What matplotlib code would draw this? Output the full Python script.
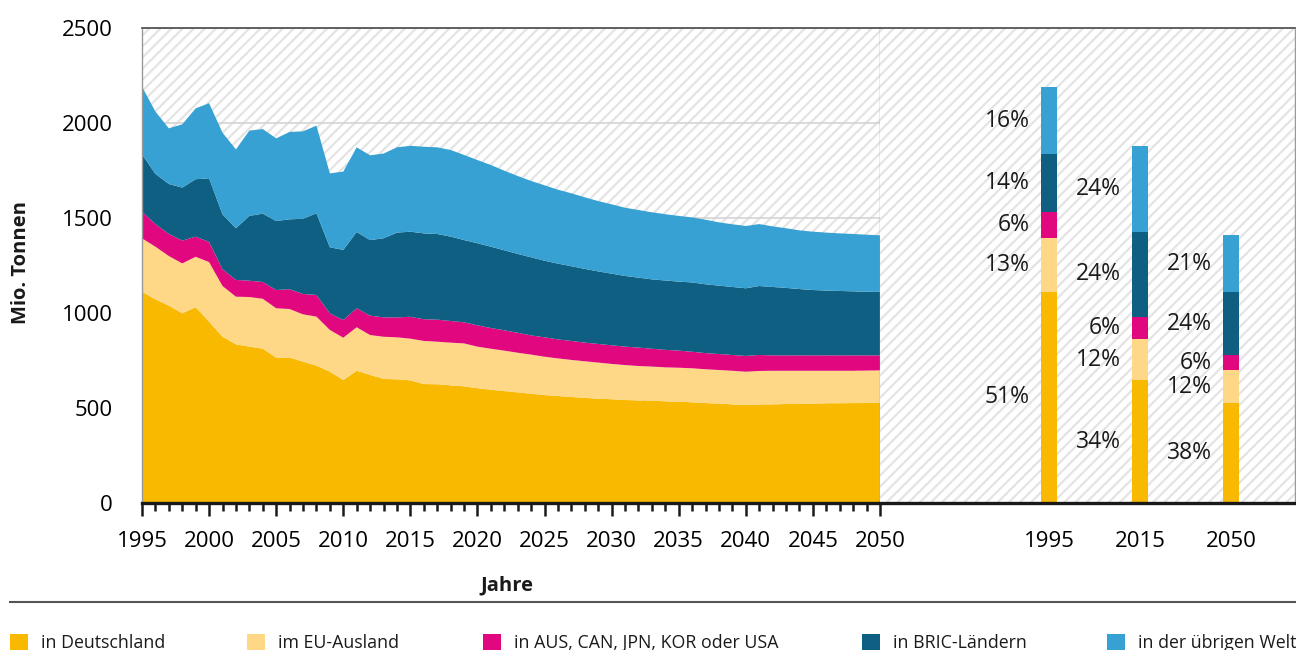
import numpy as np
import matplotlib.pyplot as plt
from matplotlib.patches import Rectangle
from matplotlib.lines import Line2D
from matplotlib.ticker import MultipleLocator

plt.rcParams["font.family"] = ["Open Sans", "DejaVu Sans"]
plt.rcParams["hatch.linewidth"] = 1.6

# --- data (Mio. Tonnen) ---------------------------------------------------
YEARS = list(range(1995, 2051))

DEUTSCHLAND = [1112, 1072, 1039, 998, 1030, 954, 875, 835, 823, 812,
               765, 765, 744, 723, 691, 647, 696, 674, 653, 651,
               645, 626, 625, 619, 614, 604, 596, 589, 582, 575,
               568, 563, 558, 553, 549, 546, 542, 540, 539, 535,
               533, 530, 526, 523, 519, 516, 519, 519, 521, 521,
               523, 525, 525, 526, 526, 528]
EU_AUSLAND = [281, 277, 261, 263, 266, 314, 267, 251, 261, 263,
              260, 256, 249, 258, 220, 223, 229, 210, 222, 221,
              220, 227, 224, 225, 226, 219, 216, 213, 209, 206,
              202, 198, 195, 193, 190, 186, 184, 181, 179, 179,
              179, 179, 178, 177, 177, 175, 176, 177, 175, 175,
              173, 171, 171, 170, 171, 170]
AUS_CAN_JPN_KOR_USA = [140, 119, 116, 120, 106, 106, 88, 88, 86, 88,
                       96, 104, 107, 114, 87, 93, 100, 102, 102, 105,
                       115, 114, 116, 114, 111, 112, 109, 107, 105, 101,
                       102, 100, 100, 98, 98, 98, 97, 97, 94, 92,
                       90, 87, 85, 84, 83, 83, 84, 81, 81, 81,
                       81, 81, 81, 81, 80, 79]
BRIC = [302, 264, 263, 279, 302, 335, 289, 272, 341, 360,
        363, 368, 396, 430, 348, 369, 401, 398, 416, 446,
        448, 452, 451, 444, 433, 432, 428, 421, 415, 411,
        403, 399, 393, 388, 382, 377, 372, 368, 365, 365,
        363, 365, 362, 360, 358, 356, 363, 360, 355, 349,
        344, 341, 339, 337, 335, 334]
UEBRIGE_WELT = [356, 328, 293, 333, 373, 395, 430, 415, 449, 445,
                435, 460, 460, 461, 389, 412, 446, 446, 446, 449,
                452, 456, 456, 456, 448, 438, 430, 419, 410, 402,
                397, 389, 384, 377, 370, 365, 359, 356, 353, 349,
                346, 342, 340, 333, 330, 328, 326, 319, 314, 309,
                307, 305, 303, 302, 300, 298]

SERIES_LABELS = ["in Deutschland", "im EU-Ausland", "in AUS, CAN, JPN, KOR oder USA",
                 "in BRIC-Ländern", "in der übrigen Welt"]
COLORS = ["#F9B900", "#FED886", "#E0077F", "#0F5F82", "#36A1D2"]

BAR_YEARS = [1995, 2015, 2050]
BAR_SHARES = [["51%", "13%", "6%", "14%", "16%"],
              ["34%", "12%", "6%", "24%", "24%"],
              ["38%", "12%", "6%", "24%", "21%"]]

Y_TICKS = [0, 500, 1000, 1500, 2000, 2500]

# --- layout ---------------------------------------------------------------
W, H = 1296, 650
fig = plt.figure(figsize=(W / 100, H / 100), dpi=100)

ax_bottom = (H - 503) / H
ax_height = (503 - 28) / H
ax = fig.add_axes([142 / W, ax_bottom, 738 / W, ax_height])
ax2 = fig.add_axes([880 / W, ax_bottom, 415 / W, ax_height])

series = [DEUTSCHLAND, EU_AUSLAND, AUS_CAN_JPN_KOR_USA, BRIC, UEBRIGE_WELT]
dotted = (0, (1, 1))

for a in (ax, ax2):
    a.set_facecolor("white")
    a.add_patch(Rectangle((0, 0), 1, 1, transform=a.transAxes, facecolor="white",
                          edgecolor="#e4e4e4", hatch="///", lw=0, zorder=0.5))
    a.set_ylim(0, 2500)
    a.spines["top"].set_color("#555555")
    a.spines["top"].set_linewidth(1.3)
    a.spines["bottom"].set_color("#1a1a1a")
    a.spines["bottom"].set_linewidth(2.4)
    a.spines["right"].set_linestyle(dotted)
    a.spines["right"].set_color("#999999")
    a.spines["right"].set_linewidth(1.0)

# stacked area
ax.stackplot(YEARS, *series, colors=COLORS, linewidth=0, zorder=2)
ax.set_xlim(1995, 2050)
ax.xaxis.set_major_locator(MultipleLocator(5))
ax.xaxis.set_minor_locator(MultipleLocator(1))
ax.tick_params(axis="x", which="major", length=9.5, width=1.8, color="#1a1a1a",
               labelsize=16, pad=11)
ax.tick_params(axis="x", which="minor", length=5.5, width=1.8, color="#1a1a1a")
ax.set_yticks(Y_TICKS)
ax.tick_params(axis="y", length=0, labelsize=16, pad=21)
ax.grid(axis="y", color="#d4d4d4", lw=1.2, zorder=1.5)
ax.spines["left"].set_linestyle(dotted)
ax.spines["left"].set_color("#999999")
ax.spines["left"].set_linewidth(1.0)

# bars for selected years
pos = np.arange(len(BAR_YEARS))
idx = [YEARS.index(y) for y in BAR_YEARS]
bw = 0.176
bottoms = np.zeros(len(BAR_YEARS))
for k, (vals, col) in enumerate(zip(series, COLORS)):
    v = np.array([vals[i] for i in idx], dtype=float)
    ax2.bar(pos, v, bottom=bottoms, width=bw, color=col, linewidth=0, zorder=2)
    for j in range(len(BAR_YEARS)):
        ax2.annotate(BAR_SHARES[j][k], (pos[j] - bw / 2, bottoms[j] + v[j] / 2),
                     xytext=(-8, 0), textcoords="offset points",
                     ha="right", va="center", fontsize=16.5, color="#1a1a1a")
    bottoms += v

ax2.set_xlim(-1.857, 2.703)
ax2.set_xticks(pos)
ax2.set_xticklabels([str(y) for y in BAR_YEARS])
ax2.tick_params(axis="x", length=0, labelsize=16, pad=20.5)
ax2.set_yticks([])
ax2.spines["left"].set_visible(False)

# axis titles
fig.text(21 / W, 1 - 262 / H, "Mio. Tonnen", rotation=90, ha="center", va="center",
         fontsize=14.5, fontweight="bold", color="#1a1a1a")
fig.text(507 / W, 1 - 585 / H, "Jahre", ha="center", va="center",
         fontsize=14.5, fontweight="bold", color="#1a1a1a")

# separator line
fig.add_artist(Line2D([10 / W, 1296 / W], [1 - 602 / H] * 2, color="#555555", lw=1.5))

# legend
LEGEND_X = [10, 247, 483, 862, 1107]
for x0, lab, col in zip(LEGEND_X, SERIES_LABELS, COLORS):
    fig.add_artist(Rectangle((x0 / W, 1 - 652 / H), 18 / W, 18 / H,
                             transform=fig.transFigure, facecolor=col, lw=0))
    fig.text((x0 + 31) / W, 1 - 648 / H, lab, ha="left", va="baseline",
             fontsize=12.8, color="#1a1a1a")

fig.savefig("out.png", dpi=100)
